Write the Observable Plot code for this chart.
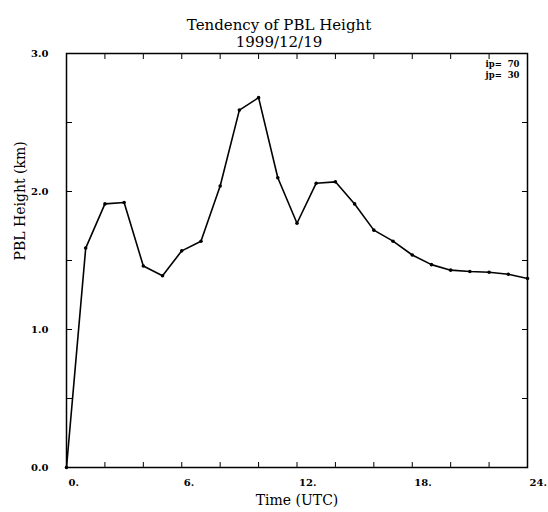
<!DOCTYPE html>
<html>
<head>
<meta charset="utf-8">
<script src="https://cdn.jsdelivr.net/npm/d3@7"></script>
<script src="https://cdn.jsdelivr.net/npm/@observablehq/plot@0.6"></script>
<style>
  html, body { margin: 0; padding: 0; background: #fff; }
  svg { display: block; }
  svg text { font-family: 'DejaVu Serif', 'Liberation Serif', serif; }
</style>
</head>
<body>
<div id="chart"></div>
<script>
const hours = [0,1,2,3,4,5,6,7,8,9,10,11,12,13,14,15,16,17,18,19,20,21,22,23,24];
const pbl = [0.0,1.59,1.91,1.92,1.46,1.39,1.57,1.64,2.04,2.59,2.68,2.10,1.77,2.06,2.07,1.91,1.72,1.64,1.54,1.47,1.43,1.42,1.415,1.40,1.37];
const xMinorTicks = [0,2,4,6,8,10,12,14,16,18,20,22,24];
const xLabelTicks = [0,6,12,18,24];
const yMinorTicks = [0,0.5,1,1.5,2,2.5,3];
const yLabelTicks = [0,1,2,3];
const titleLines = ["Tendency of PBL Height", "1999/12/19"];
const infoLines = ["ip=\u00a0\u00a070", "jp=\u00a0\u00a030"];

const data = hours.map((h, i) => ({h, v: pbl[i]}));
const font = "DejaVu Serif";

const plot = Plot.plot({
  width: 548,
  height: 512,
  marginLeft: 66,
  marginRight: 21,
  marginTop: 53,
  marginBottom: 45,
  style: {fontFamily: font, color: "#000", background: "#fff"},
  x: {domain: [0, 24], label: null},
  y: {domain: [0, 3], label: null},
  marks: [
    Plot.frame({stroke: "#000", strokeWidth: 1.5}),
    Plot.axisX({anchor: "bottom", ticks: xMinorTicks, tickSize: -5, tickFormat: () => ""}),
    Plot.axisX({anchor: "top", ticks: xMinorTicks, tickSize: -5, tickFormat: () => ""}),
    Plot.axisY({anchor: "left", ticks: yMinorTicks, tickSize: -6, tickFormat: () => ""}),
    Plot.axisY({anchor: "right", ticks: yMinorTicks, tickSize: -6, tickFormat: () => ""}),
    Plot.axisX({anchor: "bottom", ticks: xLabelTicks, tickSize: 0, tickPadding: 11,
      tickFormat: d => d + ".", textAnchor: "start", dx: 2, fontSize: 10, fontWeight: "bold", fontFamily: font}),
    Plot.axisY({anchor: "left", ticks: yLabelTicks, tickSize: 0, tickPadding: 18,
      tickFormat: d3.format(".1f"), fontSize: 10, fontWeight: "bold", fontFamily: font}),
    Plot.text(["Time (UTC)"], {frameAnchor: "bottom", dy: 37, fontSize: 14, fontFamily: font, text: d => d}),
    Plot.text(["PBL Height (km)"], {frameAnchor: "left", dx: -46, rotate: -90, fontSize: 14, fontFamily: font, text: d => d}),
    Plot.text([titleLines.join("\n")], {frameAnchor: "top", dx: -18, dy: -36, fontSize: 15, lineHeight: 1.15, fontFamily: font, text: d => d}),
    Plot.text([infoLines.join("\n")], {frameAnchor: "top-right", dx: -8, dy: 6, fontSize: 8.5, fontWeight: "bold", lineHeight: 1.3, textAnchor: "end", fontFamily: font, text: d => d}),
    Plot.line(data, {x: "h", y: "v", stroke: "#000", strokeWidth: 1.6}),
    Plot.dot(data, {x: "h", y: "v", r: 1.8, fill: "#000"})
  ]
});
document.getElementById("chart").appendChild(plot);
</script>
</body>
</html>
